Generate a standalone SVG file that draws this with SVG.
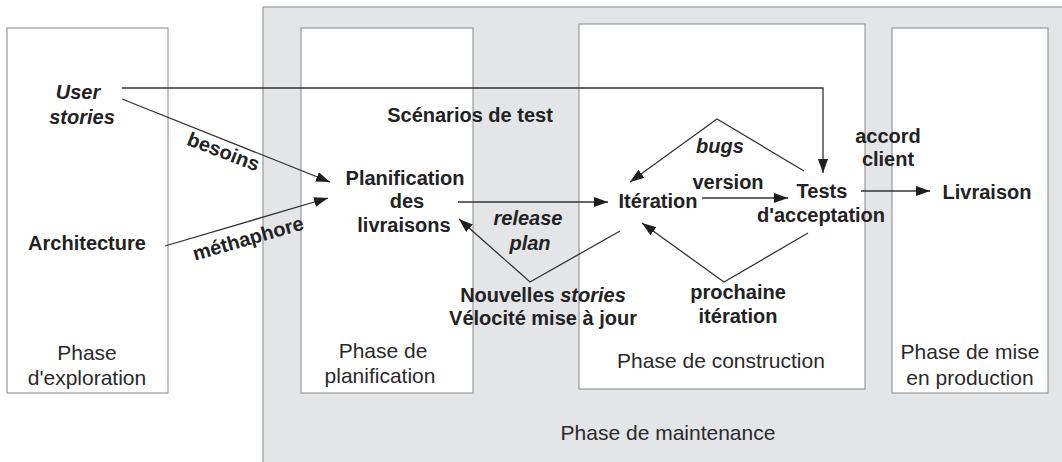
<svg xmlns="http://www.w3.org/2000/svg" width="1062" height="462" viewBox="0 0 1062 462">
  <style>
    .phase { fill: #ffffff; stroke: #9a9a9a; stroke-width: 1.2; }
    .maint { fill: #e4e5e7; stroke: #9a9a9a; stroke-width: 1.2; }
    .lbl { font-family: "Liberation Sans", Arial, sans-serif; font-size: 21px; fill: #2a2a2a; text-anchor: middle; }
    .b { font-family: "Liberation Sans", Arial, sans-serif; font-size: 20px; font-weight: bold; fill: #222222; text-anchor: middle; }
    .i { font-style: italic; }
    .edge { fill: none; stroke: #333333; stroke-width: 1.3; }
  </style>
  <defs>
    <marker id="arr" viewBox="0 0 14 10" refX="14" refY="5" markerWidth="14" markerHeight="10" markerUnits="userSpaceOnUse" orient="auto">
      <path d="M0,0 L14,5 L0,10 z" fill="#1e1e1e"/>
    </marker>
  </defs>

  <!-- maintenance background -->
  <g id="maintenance">
    <rect class="maint" x="263" y="7" width="805" height="462"/>
    <text class="lbl" x="668" y="440">Phase de maintenance</text>
  </g>

  <!-- phase columns -->
  <g id="exploration">
    <rect class="phase" x="7" y="28" width="161" height="365"/>
    <text class="lbl" x="87" y="360">Phase</text>
    <text class="lbl" x="87" y="385">d'exploration</text>
  </g>
  <g id="planification">
    <rect class="phase" x="301" y="28" width="172" height="365"/>
    <text class="lbl" x="383" y="358">Phase de</text>
    <text class="lbl" x="380" y="383">planification</text>
  </g>
  <g id="construction">
    <rect class="phase" x="579" y="24" width="286" height="365"/>
    <text class="lbl" x="721" y="368">Phase de construction</text>
  </g>
  <g id="production">
    <rect class="phase" x="892" y="28" width="156" height="365"/>
    <text class="lbl" x="970" y="359">Phase de mise</text>
    <text class="lbl" x="970" y="385">en production</text>
  </g>

  <!-- nodes -->
  <g id="user-stories">
    <text class="b i" x="78" y="99">User</text>
    <text class="b i" x="82" y="124">stories</text>
  </g>
  <g id="architecture">
    <text class="b" x="87" y="250">Architecture</text>
  </g>
  <g id="planif-livraisons">
    <text class="b" x="405" y="185">Planification</text>
    <text class="b" x="407" y="208">des</text>
    <text class="b" x="404" y="232">livraisons</text>
  </g>
  <g id="iteration">
    <text class="b" x="658" y="208">Itération</text>
  </g>
  <g id="tests">
    <text class="b" x="822" y="198">Tests</text>
    <text class="b" x="821" y="222">d'acceptation</text>
  </g>
  <g id="livraison">
    <text class="b" x="987" y="199">Livraison</text>
  </g>

  <!-- connectors -->
  <g id="connectors">
    <path class="edge" d="M122,88 H823 V173" marker-end="url(#arr)"/>
    <path class="edge" d="M122,99 L330,182" marker-end="url(#arr)"/>
    <path class="edge" d="M165,246 L328,198" marker-end="url(#arr)"/>
    <path class="edge" d="M458,202 H608" marker-end="url(#arr)"/>
    <path class="edge" d="M702,198 H788" marker-end="url(#arr)"/>
    <path class="edge" d="M804,171 L717,119 L630,182" marker-end="url(#arr)"/>
    <path class="edge" d="M808,233 L724,282 L642,223" marker-end="url(#arr)"/>
    <path class="edge" d="M620,231 L530,282 L459,219" marker-end="url(#arr)"/>
    <path class="edge" d="M861,191 H930" marker-end="url(#arr)"/>
  </g>

  <!-- connector labels -->
  <g id="labels">
    <text class="b" x="470" y="122">Scénarios de test</text>
    <text class="b" transform="translate(221,158) rotate(21)">besoins</text>
    <text class="b" transform="translate(250,245) rotate(-16)">méthaphore</text>
    <text class="b i" x="720" y="153">bugs</text>
    <text class="b" x="728" y="189">version</text>
    <text class="b i" x="528" y="225">release</text>
    <text class="b i" x="530" y="250">plan</text>
    <text class="b" x="543" y="302">Nouvelles <tspan class="i">stories</tspan></text>
    <text class="b" x="543" y="325">Vélocité mise à jour</text>
    <text class="b" x="738" y="299">prochaine</text>
    <text class="b" x="738" y="323">itération</text>
    <text class="b" x="888" y="143">accord</text>
    <text class="b" x="888" y="166">client</text>
  </g>
</svg>
